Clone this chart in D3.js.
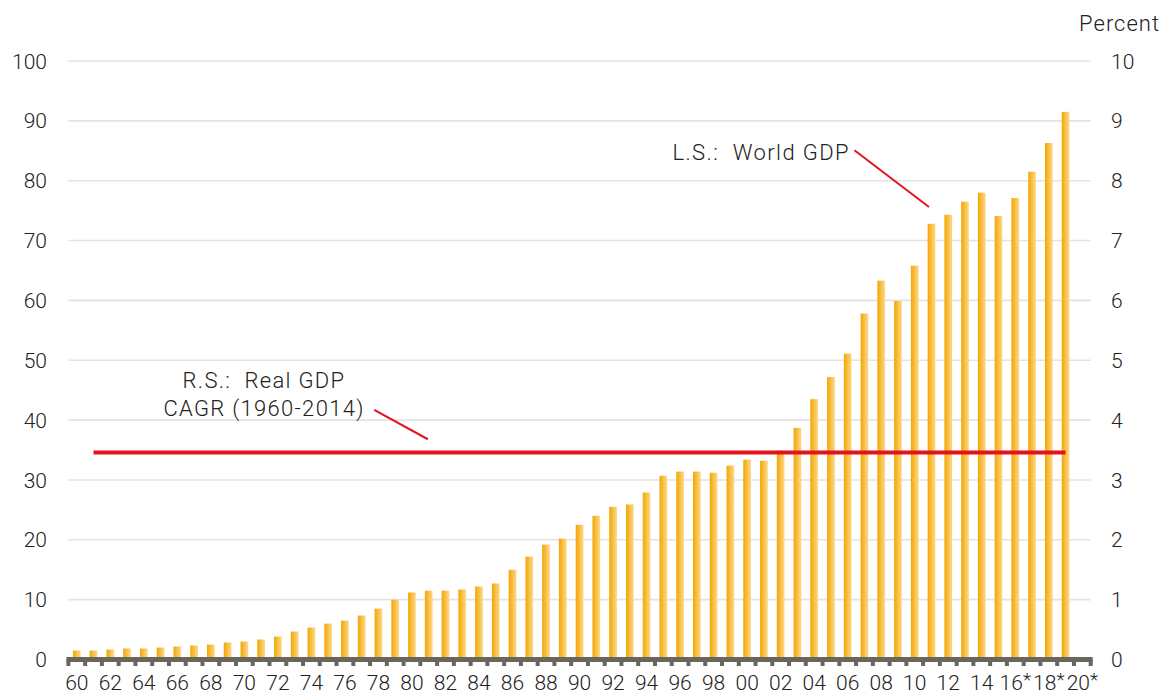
<!DOCTYPE html>
<html>
<head>
<meta charset="utf-8">
<script src="https://cdn.jsdelivr.net/npm/d3@7"></script>
<style>
  html, body { margin: 0; padding: 0; background: #fff; }
  svg text { font-family: Roboto, "Open Sans", sans-serif; font-weight: 300; fill: #222; }
</style>
</head>
<body>
<svg id="main"></svg>
<script>
var years = [1960,1961,1962,1963,1964,1965,1966,1967,1968,1969,
             1970,1971,1972,1973,1974,1975,1976,1977,1978,1979,
             1980,1981,1982,1983,1984,1985,1986,1987,1988,1989,
             1990,1991,1992,1993,1994,1995,1996,1997,1998,1999,
             2000,2001,2002,2003,2004,2005,2006,2007,2008,2009,
             2010,2011,2012,2013,2014,2015,2016,2017,2018,2019,2020];

// world GDP, left scale (2020 has no bar)
var worldGdp = [1.5,1.5,1.67,1.84,1.84,2.0,2.17,2.34,2.5,2.84,
                3.0,3.34,3.84,4.67,5.34,6.0,6.5,7.35,8.5,10.0,
                11.2,11.5,11.5,11.7,12.2,12.7,15.0,17.2,19.2,20.2,
                22.5,24.0,25.5,25.9,27.9,30.7,31.4,31.4,31.2,32.4,
                33.4,33.2,34.9,38.7,43.5,47.2,51.1,57.8,63.3,59.9,
                65.8,72.8,74.3,76.5,78.0,74.1,77.1,81.5,86.3,91.5,null];

var xLabelYears = [1960,1962,1964,1966,1968,1970,1972,1974,1976,1978,
                   1980,1982,1984,1986,1988,1990,1992,1994,1996,1998,
                   2000,2002,2004,2006,2008,2010,2012,2014,2016,2018,2020];
var xLabels = ["60","62","64","66","68","70","72","74","76","78",
               "80","82","84","86","88","90","92","94","96","98",
               "00","02","04","06","08","10","12","14","16*","18*","20*"];
var leftTicks = [0,10,20,30,40,50,60,70,80,90,100];
var rightTicks = [0,1,2,3,4,5,6,7,8,9,10];

// real GDP CAGR, right scale
var cagrValue = 3.46;
var cagrYears = [1961, 2019];

// leader lines: [year, value] pairs
var lsLeader = [[2006.4, 85.1], [2010.85, 75.6]];   // left scale
var rsLeader = [[1977.75, 4.17], [1980.95, 3.68]];  // right scale

var w = 1171;
var h = 695;

var svg = d3.select("#main")
  .attr("width", w)
  .attr("height", h);

var x = d3.scaleBand()
  .domain(years)
  .range([68.4, 1090.7])
  .paddingInner(0.54)
  .paddingOuter(0.27);

var bw = x.bandwidth();
var step = x.step();

// year -> bar centre, for annotations
var xc = d3.scaleLinear()
  .domain([1960, 2020])
  .range([x(1960) + bw / 2, x(2020) + bw / 2]);

var yLeft = d3.scaleLinear().domain([0, 100]).range([659.5, 61]);
var yRight = d3.scaleLinear().domain([0, 10]).range([659.5, 61]);

var defs = svg.append("defs");
var grad = defs.append("linearGradient")
  .attr("id", "barGrad")
  .attr("x1", 0).attr("x2", 1).attr("y1", 0).attr("y2", 0);
grad.append("stop").attr("offset", "0%").attr("stop-color", "#f4a600");
grad.append("stop").attr("offset", "100%").attr("stop-color", "#fdd98c");

// gridlines
svg.append("g").selectAll("line")
  .data(leftTicks.slice(1))
  .enter()
  .append("line")
  .attr("x1", x.range()[0])
  .attr("x2", x.range()[1])
  .attr("y1", function(d) { return yLeft(d); })
  .attr("y2", function(d) { return yLeft(d); })
  .attr("stroke", "#e3e3e3")
  .attr("stroke-width", 1.6);

// bars
svg.append("g").selectAll("rect")
  .data(years.map(function(y, i) { return {year: y, value: worldGdp[i]}; })
    .filter(function(d) { return d.value != null; }))
  .enter()
  .append("rect")
  .attr("x", function(d) { return x(d.year); })
  .attr("y", function(d) { return yLeft(d.value); })
  .attr("width", bw)
  .attr("height", function(d) { return yLeft(0) - yLeft(d.value); })
  .attr("fill", "url(#barGrad)");

// CAGR line
svg.append("line")
  .attr("x1", xc(cagrYears[0]))
  .attr("x2", xc(cagrYears[1]))
  .attr("y1", yRight(cagrValue))
  .attr("y2", yRight(cagrValue))
  .attr("stroke", "#e3131d")
  .attr("stroke-width", 4);

// bottom axis: thick bar with square ticks at band edges
var axisG = svg.append("g");
axisG.append("rect")
  .attr("x", x.range()[0] - 2)
  .attr("y", 657)
  .attr("width", x.range()[1] - x.range()[0] + 4)
  .attr("height", 5)
  .attr("fill", "#67675f");

var edges = years.map(function(y) { return x(y) + bw / 2 - step / 2; });
edges.push(x(2020) + bw / 2 + step / 2);
axisG.selectAll(".tk")
  .data(edges)
  .enter()
  .append("rect")
  .attr("class", "tk")
  .attr("x", function(d) { return d - 2; })
  .attr("y", 660)
  .attr("width", 4)
  .attr("height", 6)
  .attr("fill", "#67675f");

var xl = axisG.selectAll(".xl")
  .data(xLabelYears)
  .enter()
  .append("text")
  .attr("class", "xl")
  .attr("x", function(d) { return x(d) + bw / 2; })
  .attr("y", 690)
  .attr("text-anchor", "middle")
  .style("font-size", "21px");
xl.append("tspan").text(function(d, i) { return xLabels[i].replace("*", ""); });
xl.filter(function(d, i) { return xLabels[i].indexOf("*") >= 0; })
  .append("tspan")
  .attr("dy", -4)
  .style("font-size", "19px")
  .text("*");

// left axis labels
svg.append("g").selectAll("text")
  .data(leftTicks)
  .enter()
  .append("text")
  .attr("x", 47)
  .attr("y", function(d) { return yLeft(d); })
  .attr("dy", "0.36em")
  .attr("text-anchor", "end")
  .style("font-size", "21px")
  .text(function(d) { return d; });

// right axis labels
svg.append("g").selectAll("text")
  .data(rightTicks)
  .enter()
  .append("text")
  .attr("x", 1111)
  .attr("y", function(d) { return yRight(d); })
  .attr("dy", "0.36em")
  .attr("text-anchor", "start")
  .style("font-size", "21px")
  .text(function(d) { return d; });

svg.append("text")
  .attr("x", 1160)
  .attr("y", 31)
  .attr("text-anchor", "end")
  .style("font-size", "22px")
  .style("letter-spacing", "1px")
  .text("Percent");

// annotations
var line = d3.line();
svg.append("path")
  .attr("d", line(lsLeader.map(function(p) { return [xc(p[0]), yLeft(p[1])]; })))
  .attr("stroke", "#e3131d")
  .attr("stroke-width", 2)
  .attr("fill", "none");

svg.append("path")
  .attr("d", line(rsLeader.map(function(p) { return [xc(p[0]), yRight(p[1])]; })))
  .attr("stroke", "#e3131d")
  .attr("stroke-width", 2)
  .attr("fill", "none");

svg.append("text")
  .attr("x", 850)
  .attr("y", 160)
  .attr("text-anchor", "end")
  .style("font-size", "22px")
  .style("letter-spacing", "1.4px")
  .style("white-space", "pre")
  .text("L.S.:  World GDP");

var rs = svg.append("text")
  .attr("text-anchor", "middle")
  .style("font-size", "22px")
  .style("letter-spacing", "1.3px")
  .style("white-space", "pre");
rs.append("tspan").attr("x", 264).attr("y", 388).text("R.S.:  Real GDP");
rs.append("tspan").attr("x", 264).attr("y", 416).text("CAGR (1960-2014)");
</script>
</body>
</html>
